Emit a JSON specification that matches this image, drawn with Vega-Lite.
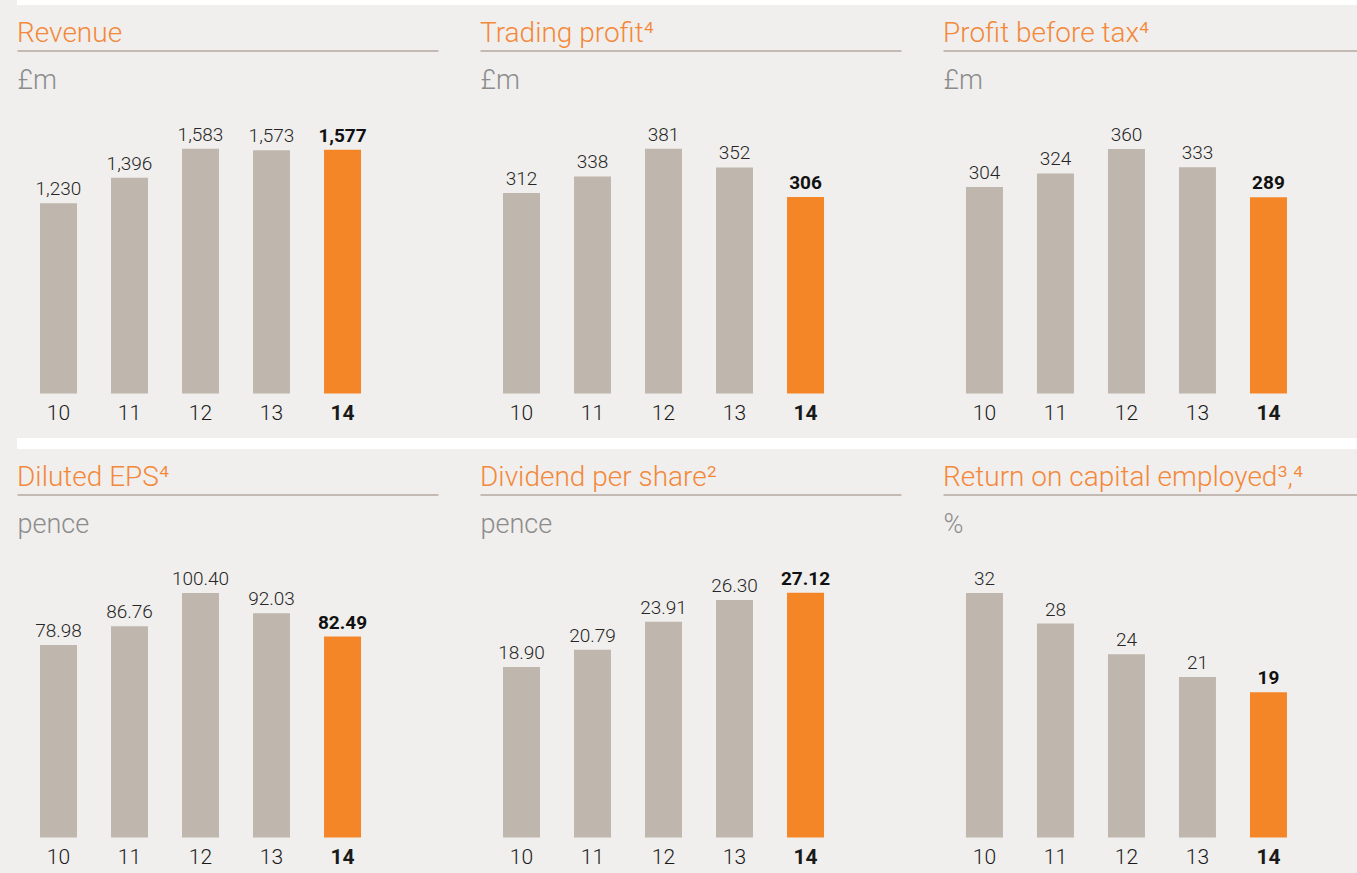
{
  "$schema": "https://vega.github.io/schema/vega-lite/v6.json",
  "background": "#f0efed",
  "padding": {"left": 17, "top": 0, "right": 0, "bottom": 6},
  "datasets": {
    "kpi": [
      {"metric": "rev", "year": "10", "value": 1230},
      {"metric": "rev", "year": "11", "value": 1396},
      {"metric": "rev", "year": "12", "value": 1583},
      {"metric": "rev", "year": "13", "value": 1573},
      {"metric": "rev", "year": "14", "value": 1577},
      {"metric": "tp", "year": "10", "value": 312},
      {"metric": "tp", "year": "11", "value": 338},
      {"metric": "tp", "year": "12", "value": 381},
      {"metric": "tp", "year": "13", "value": 352},
      {"metric": "tp", "year": "14", "value": 306},
      {"metric": "pbt", "year": "10", "value": 304},
      {"metric": "pbt", "year": "11", "value": 324},
      {"metric": "pbt", "year": "12", "value": 360},
      {"metric": "pbt", "year": "13", "value": 333},
      {"metric": "pbt", "year": "14", "value": 289},
      {"metric": "eps", "year": "10", "value": 78.98},
      {"metric": "eps", "year": "11", "value": 86.76},
      {"metric": "eps", "year": "12", "value": 100.40},
      {"metric": "eps", "year": "13", "value": 92.03},
      {"metric": "eps", "year": "14", "value": 82.49},
      {"metric": "dps", "year": "10", "value": 18.90},
      {"metric": "dps", "year": "11", "value": 20.79},
      {"metric": "dps", "year": "12", "value": 23.91},
      {"metric": "dps", "year": "13", "value": 26.30},
      {"metric": "dps", "year": "14", "value": 27.12},
      {"metric": "roce", "year": "10", "value": 32},
      {"metric": "roce", "year": "11", "value": 28},
      {"metric": "roce", "year": "12", "value": 24},
      {"metric": "roce", "year": "13", "value": 21},
      {"metric": "roce", "year": "14", "value": 19}
    ]
  },
  "config": {
    "view": {"stroke": null},
    "title": {"anchor": "start", "frame": "group", "font": "Roboto", "fontSize": 28, "fontWeight": 300, "color": "#f4883a", "offset": 3},
    "text": {"font": "Roboto", "fontSize": 19, "baseline": "alphabetic", "dy": -8},
    "axisBottom": {"domain": false, "ticks": false, "grid": false, "labelPadding": 9, "labelFontSize": 21, "labelFont": "Roboto", "labelColor": "#1a1a1a", "labelAngle": 0, "title": null},
    "axisTop": {"domain": true, "domainColor": "#c3bbb3", "domainWidth": 2, "ticks": false, "labels": false, "grid": false, "titleAnchor": "start", "titleAlign": "left", "titleAngle": 0, "titleBaseline": "alphabetic", "titleX": 0, "titleY": 38, "titleFontSize": 27, "titleFontWeight": 300, "titleColor": "#8c8c8c", "titleFont": "Roboto"}
  },
  "vconcat": [
    {
      "width": 1340, "height": 5,
      "data": {"values": [{"s": 1}]},
      "mark": {"type": "point", "opacity": 0, "size": 0, "strokeWidth": 0},
      "encoding": {},
      "view": {"fill": "#ffffff", "stroke": null}
    },
    {
      "hconcat": [
        {
          "width": 421, "height": 343,
          "title": "Revenue",
          "data": {"name": "kpi"},
          "transform": [{"filter": "datum.metric === 'rev'"}],
          "layer": [
            {"mark": {"type": "bar"},
             "encoding": {
               "x": {"field": "year", "type": "nominal", "scale": {"domain": ["10","11","12","13","14"], "paddingInner": 0.479, "paddingOuter": 0.704, "align": 0.23}, "axis": {"orient": "bottom", "labelFontWeight": {"condition": {"test": "datum.value === '14'", "value": "bold"}, "value": 300}}},
               "y": {"field": "value", "type": "quantitative", "scale": {"domain": [0, 2219], "nice": false}, "axis": null},
               "color": {"condition": {"test": "datum.year === '14'", "value": "#f58628"}, "value": "#bfb6ad"}
             }},
            {"transform": [{"filter": "datum.year !== '14'"}],
             "mark": {"type": "text", "fontWeight": 300, "color": "#262626"},
             "encoding": {
               "x": {"field": "year", "type": "nominal", "scale": {"domain": ["10","11","12","13","14"], "paddingInner": 0.479, "paddingOuter": 0.704, "align": 0.23}, "axis": {"orient": "top", "title": "£m"}},
               "y": {"field": "value", "type": "quantitative", "scale": {"domain": [0, 2219], "nice": false}, "axis": null},
               "text": {"field": "value", "type": "quantitative", "format": ","}
             }},
            {"transform": [{"filter": "datum.year === '14'"}],
             "mark": {"type": "text", "fontWeight": "bold", "color": "#111111"},
             "encoding": {
               "x": {"field": "year", "type": "nominal", "scale": {"domain": ["10","11","12","13","14"], "paddingInner": 0.479, "paddingOuter": 0.704, "align": 0.23}, "axis": null},
               "y": {"field": "value", "type": "quantitative", "scale": {"domain": [0, 2219], "nice": false}, "axis": null},
               "text": {"field": "value", "type": "quantitative", "format": ","}
             }}
          ],
          "resolve": {"axis": {"x": "independent"}}
        },
        {
          "width": 421, "height": 343,
          "title": "Trading profit⁴",
          "data": {"name": "kpi"},
          "transform": [{"filter": "datum.metric === 'tp'"}],
          "layer": [
            {"mark": {"type": "bar"},
             "encoding": {
               "x": {"field": "year", "type": "nominal", "scale": {"domain": ["10","11","12","13","14"], "paddingInner": 0.479, "paddingOuter": 0.704, "align": 0.23}, "axis": {"orient": "bottom", "labelFontWeight": {"condition": {"test": "datum.value === '14'", "value": "bold"}, "value": 300}}},
               "y": {"field": "value", "type": "quantitative", "scale": {"domain": [0, 534], "nice": false}, "axis": null},
               "color": {"condition": {"test": "datum.year === '14'", "value": "#f58628"}, "value": "#bfb6ad"}
             }},
            {"transform": [{"filter": "datum.year !== '14'"}],
             "mark": {"type": "text", "fontWeight": 300, "color": "#262626"},
             "encoding": {
               "x": {"field": "year", "type": "nominal", "scale": {"domain": ["10","11","12","13","14"], "paddingInner": 0.479, "paddingOuter": 0.704, "align": 0.23}, "axis": {"orient": "top", "title": "£m"}},
               "y": {"field": "value", "type": "quantitative", "scale": {"domain": [0, 534], "nice": false}, "axis": null},
               "text": {"field": "value", "type": "quantitative", "format": "d"}
             }},
            {"transform": [{"filter": "datum.year === '14'"}],
             "mark": {"type": "text", "fontWeight": "bold", "color": "#111111"},
             "encoding": {
               "x": {"field": "year", "type": "nominal", "scale": {"domain": ["10","11","12","13","14"], "paddingInner": 0.479, "paddingOuter": 0.704, "align": 0.23}, "axis": null},
               "y": {"field": "value", "type": "quantitative", "scale": {"domain": [0, 534], "nice": false}, "axis": null},
               "text": {"field": "value", "type": "quantitative", "format": "d"}
             }}
          ],
          "resolve": {"axis": {"x": "independent"}}
        },
        {
          "width": 414, "height": 343,
          "title": "Profit before tax⁴",
          "data": {"name": "kpi"},
          "transform": [{"filter": "datum.metric === 'pbt'"}],
          "layer": [
            {"mark": {"type": "bar"},
             "encoding": {
               "x": {"field": "year", "type": "nominal", "scale": {"domain": ["10","11","12","13","14"], "paddingInner": 0.479, "paddingOuter": 0.655, "align": 0.247}, "axis": {"orient": "bottom", "labelFontWeight": {"condition": {"test": "datum.value === '14'", "value": "bold"}, "value": 300}}},
               "y": {"field": "value", "type": "quantitative", "scale": {"domain": [0, 505], "nice": false}, "axis": null},
               "color": {"condition": {"test": "datum.year === '14'", "value": "#f58628"}, "value": "#bfb6ad"}
             }},
            {"transform": [{"filter": "datum.year !== '14'"}],
             "mark": {"type": "text", "fontWeight": 300, "color": "#262626"},
             "encoding": {
               "x": {"field": "year", "type": "nominal", "scale": {"domain": ["10","11","12","13","14"], "paddingInner": 0.479, "paddingOuter": 0.655, "align": 0.247}, "axis": {"orient": "top", "title": "£m"}},
               "y": {"field": "value", "type": "quantitative", "scale": {"domain": [0, 505], "nice": false}, "axis": null},
               "text": {"field": "value", "type": "quantitative", "format": "d"}
             }},
            {"transform": [{"filter": "datum.year === '14'"}],
             "mark": {"type": "text", "fontWeight": "bold", "color": "#111111"},
             "encoding": {
               "x": {"field": "year", "type": "nominal", "scale": {"domain": ["10","11","12","13","14"], "paddingInner": 0.479, "paddingOuter": 0.655, "align": 0.247}, "axis": null},
               "y": {"field": "value", "type": "quantitative", "scale": {"domain": [0, 505], "nice": false}, "axis": null},
               "text": {"field": "value", "type": "quantitative", "format": "d"}
             }}
          ],
          "resolve": {"axis": {"x": "independent"}}
        }
      ],
      "spacing": 42
    },
    {
      "width": 1340, "height": 11,
      "data": {"values": [{"s": 1}]},
      "mark": {"type": "point", "opacity": 0, "size": 0, "strokeWidth": 0},
      "encoding": {},
      "view": {"fill": "#ffffff", "stroke": null}
    },
    {
      "hconcat": [
        {
          "width": 421, "height": 343,
          "title": "Diluted EPS⁴",
          "data": {"name": "kpi"},
          "transform": [{"filter": "datum.metric === 'eps'"}],
          "layer": [
            {"mark": {"type": "bar"},
             "encoding": {
               "x": {"field": "year", "type": "nominal", "scale": {"domain": ["10","11","12","13","14"], "paddingInner": 0.479, "paddingOuter": 0.704, "align": 0.23}, "axis": {"orient": "bottom", "labelFontWeight": {"condition": {"test": "datum.value === '14'", "value": "bold"}, "value": 300}}},
               "y": {"field": "value", "type": "quantitative", "scale": {"domain": [0, 140.8], "nice": false}, "axis": null},
               "color": {"condition": {"test": "datum.year === '14'", "value": "#f58628"}, "value": "#bfb6ad"}
             }},
            {"transform": [{"filter": "datum.year !== '14'"}],
             "mark": {"type": "text", "fontWeight": 300, "color": "#262626"},
             "encoding": {
               "x": {"field": "year", "type": "nominal", "scale": {"domain": ["10","11","12","13","14"], "paddingInner": 0.479, "paddingOuter": 0.704, "align": 0.23}, "axis": {"orient": "top", "title": "pence"}},
               "y": {"field": "value", "type": "quantitative", "scale": {"domain": [0, 140.8], "nice": false}, "axis": null},
               "text": {"field": "value", "type": "quantitative", "format": ".2f"}
             }},
            {"transform": [{"filter": "datum.year === '14'"}],
             "mark": {"type": "text", "fontWeight": "bold", "color": "#111111"},
             "encoding": {
               "x": {"field": "year", "type": "nominal", "scale": {"domain": ["10","11","12","13","14"], "paddingInner": 0.479, "paddingOuter": 0.704, "align": 0.23}, "axis": null},
               "y": {"field": "value", "type": "quantitative", "scale": {"domain": [0, 140.8], "nice": false}, "axis": null},
               "text": {"field": "value", "type": "quantitative", "format": ".2f"}
             }}
          ],
          "resolve": {"axis": {"x": "independent"}}
        },
        {
          "width": 421, "height": 343,
          "title": "Dividend per share²",
          "data": {"name": "kpi"},
          "transform": [{"filter": "datum.metric === 'dps'"}],
          "layer": [
            {"mark": {"type": "bar"},
             "encoding": {
               "x": {"field": "year", "type": "nominal", "scale": {"domain": ["10","11","12","13","14"], "paddingInner": 0.479, "paddingOuter": 0.704, "align": 0.23}, "axis": {"orient": "bottom", "labelFontWeight": {"condition": {"test": "datum.value === '14'", "value": "bold"}, "value": 300}}},
               "y": {"field": "value", "type": "quantitative", "scale": {"domain": [0, 38.0], "nice": false}, "axis": null},
               "color": {"condition": {"test": "datum.year === '14'", "value": "#f58628"}, "value": "#bfb6ad"}
             }},
            {"transform": [{"filter": "datum.year !== '14'"}],
             "mark": {"type": "text", "fontWeight": 300, "color": "#262626"},
             "encoding": {
               "x": {"field": "year", "type": "nominal", "scale": {"domain": ["10","11","12","13","14"], "paddingInner": 0.479, "paddingOuter": 0.704, "align": 0.23}, "axis": {"orient": "top", "title": "pence"}},
               "y": {"field": "value", "type": "quantitative", "scale": {"domain": [0, 38.0], "nice": false}, "axis": null},
               "text": {"field": "value", "type": "quantitative", "format": ".2f"}
             }},
            {"transform": [{"filter": "datum.year === '14'"}],
             "mark": {"type": "text", "fontWeight": "bold", "color": "#111111"},
             "encoding": {
               "x": {"field": "year", "type": "nominal", "scale": {"domain": ["10","11","12","13","14"], "paddingInner": 0.479, "paddingOuter": 0.704, "align": 0.23}, "axis": null},
               "y": {"field": "value", "type": "quantitative", "scale": {"domain": [0, 38.0], "nice": false}, "axis": null},
               "text": {"field": "value", "type": "quantitative", "format": ".2f"}
             }}
          ],
          "resolve": {"axis": {"x": "independent"}}
        },
        {
          "width": 414, "height": 343,
          "title": "Return on capital employed³,⁴",
          "data": {"name": "kpi"},
          "transform": [{"filter": "datum.metric === 'roce'"}],
          "layer": [
            {"mark": {"type": "bar"},
             "encoding": {
               "x": {"field": "year", "type": "nominal", "scale": {"domain": ["10","11","12","13","14"], "paddingInner": 0.479, "paddingOuter": 0.655, "align": 0.247}, "axis": {"orient": "bottom", "labelFontWeight": {"condition": {"test": "datum.value === '14'", "value": "bold"}, "value": 300}}},
               "y": {"field": "value", "type": "quantitative", "scale": {"domain": [0, 44.9], "nice": false}, "axis": null},
               "color": {"condition": {"test": "datum.year === '14'", "value": "#f58628"}, "value": "#bfb6ad"}
             }},
            {"transform": [{"filter": "datum.year !== '14'"}],
             "mark": {"type": "text", "fontWeight": 300, "color": "#262626"},
             "encoding": {
               "x": {"field": "year", "type": "nominal", "scale": {"domain": ["10","11","12","13","14"], "paddingInner": 0.479, "paddingOuter": 0.655, "align": 0.247}, "axis": {"orient": "top", "title": "%"}},
               "y": {"field": "value", "type": "quantitative", "scale": {"domain": [0, 44.9], "nice": false}, "axis": null},
               "text": {"field": "value", "type": "quantitative", "format": "d"}
             }},
            {"transform": [{"filter": "datum.year === '14'"}],
             "mark": {"type": "text", "fontWeight": "bold", "color": "#111111"},
             "encoding": {
               "x": {"field": "year", "type": "nominal", "scale": {"domain": ["10","11","12","13","14"], "paddingInner": 0.479, "paddingOuter": 0.655, "align": 0.247}, "axis": null},
               "y": {"field": "value", "type": "quantitative", "scale": {"domain": [0, 44.9], "nice": false}, "axis": null},
               "text": {"field": "value", "type": "quantitative", "format": "d"}
             }}
          ],
          "resolve": {"axis": {"x": "independent"}}
        }
      ],
      "spacing": 42
    }
  ],
  "spacing": 14.5
}
